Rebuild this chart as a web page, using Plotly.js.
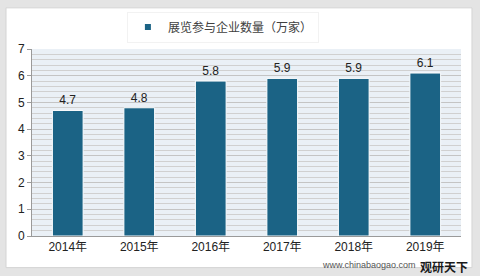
<!DOCTYPE html>
<html>
<head>
<meta charset="utf-8">
<script src="https://cdn.plot.ly/plotly-3.0.1.min.js"></script>
<style>html,body{margin:0;padding:0;background:#e4e4e4;}#chart{width:480px;height:276px;}</style>
</head>
<body>
<div id="chart"></div>
<script>
const categories = ["2014年", "2015年", "2016年", "2017年", "2018年", "2019年"];
const values = [4.7, 4.8, 5.8, 5.9, 5.9, 6.1];
const seriesName = "展览参与企业数量（万家）";
const yTicks = [0, 1, 2, 3, 4, 5, 6, 7];

const FONT = "Liberation Sans, Arial, Noto Sans CJK SC, sans-serif";
const BAR_COLOR = "#1b6385";

const trace = {
  type: "bar",
  x: categories,
  y: values,
  name: seriesName,
  showlegend: false,
  width: 0.43,
  marker: { color: BAR_COLOR, line: { color: "#ffffff", width: 1 } },
  text: values.map(v => v.toFixed(1)),
  textposition: "outside",
  textfont: { family: FONT, size: 12, color: "#222222" },
  cliponaxis: false,
  hoverinfo: "none"
};

// legend-only entry with a small square key
const legendKey = {
  type: "scatter",
  mode: "markers",
  x: [null],
  y: [null],
  name: seriesName,
  marker: { symbol: "square", size: 6, color: BAR_COLOR },
  hoverinfo: "none"
};

const layout = {
  width: 480,
  height: 276,
  margin: { l: 32, r: 19, t: 46.7, b: 40 },
  paper_bgcolor: "#e4e4e4",
  plot_bgcolor: "rgba(0,0,0,0)",
  font: { family: FONT, size: 12, color: "#222222" },
  showlegend: true,
  legend: {
    orientation: "h",
    x: 0.445, xanchor: "center",
    y: 1.2, yanchor: "top",
    bgcolor: "#ffffff",
    bordercolor: "#f2f2f2",
    borderwidth: 1,
    font: { family: FONT, size: 12, color: "#404040" },
    itemwidth: 30
  },
  xaxis: {
    type: "category",
    showline: true,
    linecolor: "#9a9a9a",
    linewidth: 1,
    showgrid: false,
    ticks: "",
    tickfont: { family: FONT, size: 12, color: "#222222" },
    fixedrange: true
  },
  yaxis: {
    range: [0, 7],
    tickvals: yTicks,
    ticktext: yTicks.map(String),
    showline: true,
    linecolor: "#9a9a9a",
    linewidth: 1,
    ticks: "outside",
    ticklen: 4,
    tickcolor: "#9a9a9a",
    showgrid: true,
    gridcolor: "#c4c4c4",
    gridwidth: 1,
    minor: { dtick: 0.2, showgrid: true, gridcolor: "#d0d0d0", gridwidth: 1, ticks: "" },
    zeroline: false,
    tickfont: { family: FONT, size: 12, color: "#222222" },
    fixedrange: true
  },
  shapes: [
    { type: "rect", xref: "paper", yref: "paper", layer: "below",
      x0: -0.0606, x1: 1.0256, y0: -0.169, y1: 1.22,
      fillcolor: "#ffffff", line: { color: "#d4d4d4", width: 1 } },
    { type: "rect", xref: "paper", yref: "paper", layer: "below",
      x0: 0, x1: 1, y0: 0, y1: 1,
      fillcolor: "#eaf0f6", line: { width: 0 } }
  ],
  annotations: [
    { xref: "paper", yref: "paper", x: 1.02, y: -0.105, xanchor: "right", yanchor: "top",
      text: "<b>观研天下</b>", showarrow: false,
      font: { family: "Noto Sans CJK SC, sans-serif", size: 12, color: "#1a1a1a" } },
    { xref: "paper", yref: "paper", x: 0.9, y: -0.12, xanchor: "right", yanchor: "top",
      text: "www.chinabaogao.com", showarrow: false,
      font: { family: FONT, size: 9, color: "#555555" } }
  ]
};

Plotly.newPlot("chart", [trace, legendKey], layout, { displayModeBar: false, staticPlot: true });
</script>
</body>
</html>
